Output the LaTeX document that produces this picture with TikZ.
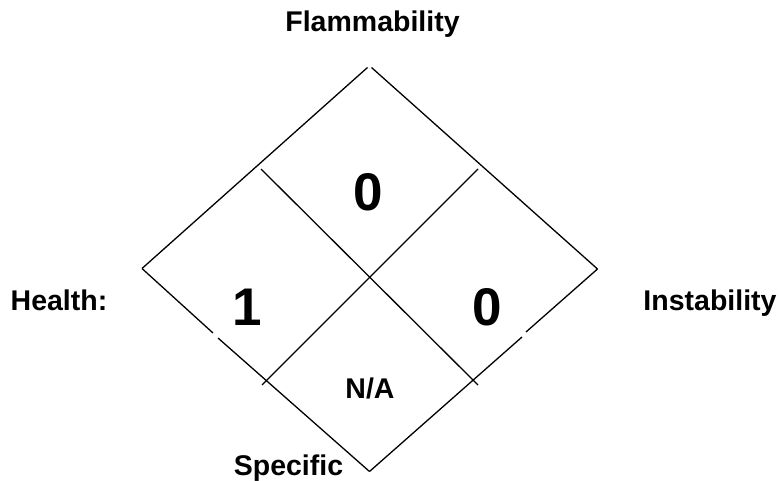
\documentclass[tikz,border=0pt]{standalone}
\usepackage{fontspec}
\setmainfont{Liberation Sans}
\usepackage{tikz}
\usetikzlibrary{calc}
\tikzset{
	hazard/.style={font=\bfseries\fontsize{28.5}{31}\selectfont, inner sep=0pt, anchor=base},
	rating/.style={font=\bfseries\fontsize{53}{56}\selectfont, inner sep=0pt, anchor=base},
	edge/.style={line width=1.3pt, black}
}

\begin{document}
\begin{tikzpicture}[x=1pt, y=-1pt]
		\useasboundingbox (0, 0) rectangle (779, 481);

		% outer diamond
		\coordinate (left)   at (142, 268.5);
		\coordinate (right)  at (597.5, 269);
		\coordinate (bottom) at (369.5, 471.5);
		\draw[edge] (left) -- (367.5, 67.5);
		\draw[edge] (371.5, 67.5) -- (right);
		\draw[edge] (left) -- (213, 333);
		\draw[edge] (218, 338) -- (bottom);
		\draw[edge] (right) -- (526, 332);
		\draw[edge] (522, 337) -- (bottom);

		% inner cross
		\draw[edge] (261, 169) -- (478, 385);
		\draw[edge] (478, 169) -- (262, 385);

		% ratings
		\node[rating] (flam) at (368, 211) {0};
		\node[rating] (health) at (247, 325) {1};
		\node[rating] (inst) at (487, 325) {0};
		\node[hazard] (spec) at (370, 398) {N/A};

		% labels
		\node[hazard] at (372.5, 32) {Flammability};
		\node[hazard] at (59, 310) {Health:};
		\node[hazard] at (710, 310) {Instability};
		\node[hazard] at (288.5, 475) {Specific};
	\end{tikzpicture}
\end{document}
